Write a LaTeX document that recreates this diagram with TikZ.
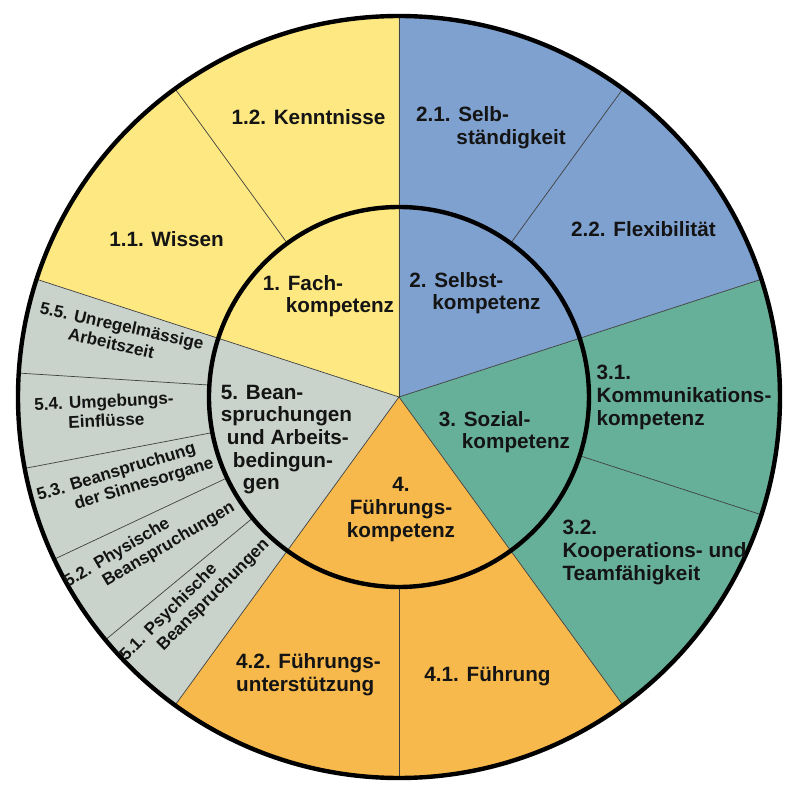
\documentclass[tikz,border=0pt]{standalone}
\usepackage{fontspec}
\setmainfont{Liberation Sans}
\definecolor{fachyellow}{HTML}{FDE882}
\definecolor{selbstblue}{HTML}{7FA1CF}
\definecolor{sozialgreen}{HTML}{66AF98}
\definecolor{fuehrorange}{HTML}{F8B94C}
\definecolor{beangray}{HTML}{C9D3CB}
\definecolor{textgray}{HTML}{141414}
\newcommand{\hanglbl}[3]{#1 #2\\\phantom{#1} #3}
\begin{document}
\begin{tikzpicture}[x=0.5pt,y=0.5pt,
	lbl/.style={font=\fontsize{10.35}{11.35}\selectfont\bfseries,text=textgray,align=left,inner sep=0pt},
	sublbl/.style={font=\fontsize{8.55}{9.65}\selectfont\bfseries,text=textgray,align=left,inner sep=0pt},
	divider/.style={draw=black!75,line width=0.35pt},
	ring/.style={draw=black,line width=2.2pt}]
	\useasboundingbox (-399,-397) rectangle (401,397);
	
	% the five sectors
	\fill[fachyellow] (0,0) -- (90:381) arc[start angle=90,end angle=162,radius=381] -- cycle;
	\fill[selbstblue] (0,0) -- (18:381) arc[start angle=18,end angle=90,radius=381] -- cycle;
	\fill[sozialgreen] (0,0) -- (-54:381) arc[start angle=-54,end angle=18,radius=381] -- cycle;
	\fill[fuehrorange] (0,0) -- (234:381) arc[start angle=234,end angle=306,radius=381] -- cycle;
	\fill[beangray] (0,0) -- (162:381) arc[start angle=162,end angle=234,radius=381] -- cycle;
	
	% sector borders
	\draw[divider] (0,0) -- (90:381);
	\draw[divider] (0,0) -- (162:381);
	\draw[divider] (0,0) -- (234:381);
	\draw[divider] (0,0) -- (306:381);
	\draw[divider] (0,0) -- (18:381);
	
	% sub-sector borders
	\draw[divider] (126:190) -- (126:381);
	\draw[divider] (54:190) -- (54:381);
	\draw[divider] (-18:190) -- (-18:381);
	\draw[divider] (270:190) -- (270:381);
	\draw[divider] (176.4:190) -- (176.4:381);
	\draw[divider] (190.8:190) -- (190.8:381);
	\draw[divider] (205.2:190) -- (205.2:381);
	\draw[divider] (219.6:190) -- (219.6:381);
	
	% rings
	\draw[ring] (0,0) circle[radius=190];
	\draw[ring] (0,0) circle[radius=381];
	
	% inner labels
	\node[lbl] (fach) at (-70.5,101) {\hanglbl{1.}{Fach-}{kompetenz}};
	\node[lbl] (selbst) at (76,104) {\hanglbl{2.}{Selbst-}{kompetenz}};
	\node[lbl] (sozial) at (105.5,-35) {\hanglbl{3.}{Sozial-}{kompetenz}};
	\node[lbl,align=center] (fuehrung) at (2,-112.5) {4.\\Führungs-\\kompetenz};
	\node[lbl] (belastung) at (-112.5,-42.5) {5. Bean-\\spruchungen\\\hspace*{3pt}und Arbeits-\\\hspace*{6pt}bedingun-\\\hspace*{11pt}gen};
	
	% outer labels
	\node[lbl] (wissen) at (-232.5,157.5) {1.1. Wissen};
	\node[lbl] (kenntnisse) at (-90.5,279.5) {1.2. Kenntnisse};
	\node[lbl] (selbstaendig) at (92,269.5) {\hanglbl{2.1.}{Selb-}{ständigkeit}};
	\node[lbl] (flexibel) at (244.5,167.5) {2.2. Flexibilität};
	\node[lbl] (kommunikation) at (285,-0.5) {3.1.\\Kommunikations-\\kompetenz};
	\node[lbl] (kooperation) at (255.5,-155.5) {3.2.\\Kooperations- und\\Teamfähigkeit};
	\node[lbl] (fuehrungsub) at (88.5,-279) {4.1. Führung};
	\node[lbl] (unterstuetzung) at (-90.5,-278) {4.2. Führungs-\\unterstützung};
	
	\node[sublbl,rotate=44.9] (psychisch) at (224.9:288) {\hanglbl{5.1.}{Psychische}{Beanspruchungen}};
	\node[sublbl,rotate=30.7] (physisch) at (210.7:290) {\hanglbl{5.2.}{Physische}{Beanspruchungen}};
	\node[sublbl,rotate=16.9] (sinne) at (196.9:286) {\hanglbl{5.3.}{Beanspruchung}{der Sinnesorgane}};
	\node[sublbl,rotate=2.7] (umgebung) at (182.7:295) {\hanglbl{5.4.}{Umgebungs-}{Einflüsse}};
	\node[sublbl,rotate=-12.5] (arbeitszeit) at (167.5:286) {\hanglbl{5.5.}{Unregelmässige}{Arbeitszeit}};
	
\end{tikzpicture}
\end{document}
